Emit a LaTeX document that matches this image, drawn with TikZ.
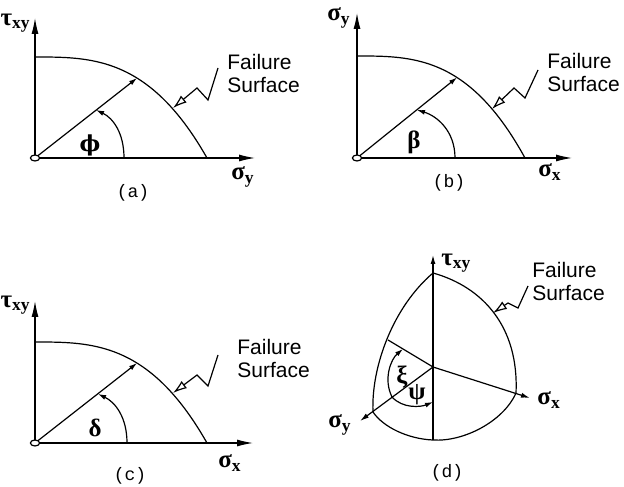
\documentclass[tikz,border=0pt]{standalone}
\usepackage{fontspec}
\setmainfont{Liberation Sans}
\newfontfamily\capfont{Liberation Mono}
\newfontfamily\grkfont{Liberation Serif}
\newfontfamily\phifont{DejaVu Serif}
\usetikzlibrary{arrows.meta}

\begin{document}
\begin{tikzpicture}[x=0.5pt, y=0.5pt,
            axis/.style={line width=0.6pt, -{Latex[length=8pt,width=3.5pt]}},
            saxis/.style={line width=0.6pt, -{Latex[length=4.5pt,width=2.5pt]}},
            surf/.style={line width=0.6pt},
            ray/.style={line width=0.6pt, -{Latex[length=4pt,width=2.5pt]}},
            leader/.style={line width=0.6pt, -{Latex[open,length=7pt,width=4.5pt]}},
            sym/.style={font=\grkfont\bfseries\fontsize{12.5}{14}\selectfont, inner sep=0pt},
            lbl/.style={font=\fontsize{10.5}{11.5}\selectfont, align=left, inner sep=0pt},
            captxt/.style={font=\capfont\fontsize{9}{10}\selectfont, inner sep=0pt}
        ]
            \useasboundingbox (0,0) rectangle (624,486);

            % (a) tau_xy - sigma_y
            \begin{scope}[shift={(35,328)}]
                \coordinate (oa) at (0,0);
                \coordinate (ya) at (0,140);
                \coordinate (xa) at (220,0);
                \coordinate (pa) at (102,79.9);
                \coordinate (ta) at (138,50);
                \draw[axis] (oa) -- (ya);
                \draw[axis] (oa) -- (xa);
                \draw[surf] plot[domain=0:1, samples=40, smooth] ({172*\x},{101*(1-\x^3)});
                \draw[ray] (oa) -- (pa);
                \draw[ray] (89,0) .. controls (89,25) and (78,40) .. (61,48);
                \draw[surf, fill=white] (oa) ellipse [x radius=2.3pt, y radius=1.5pt];
                \node[sym, anchor=east] (tauA) at (-4,135) {τ\textsubscript{xy}};
                \node[sym] (sigA) at (208,-19) {σ\textsubscript{y}};
                \node[sym, font=\phifont\bfseries\fontsize{11}{13}\selectfont] (phiA) at (55,13) {ϕ};
                \node[captxt] (capA) at (98,-35) {(a)};
                \node[lbl, anchor=west] (fa) at (192,84.5) {Failure\\Surface};
                \draw[leader] ([shift={(-9,5.5)}]fa.west) -- ++(-10,-32) -- ++(-11,12) -- (ta);
            \end{scope}

            % (b) sigma_y - sigma_x
            \begin{scope}[shift={(357,328)}]
                \coordinate (ob) at (0,0);
                \coordinate (yb) at (0,145);
                \coordinate (xb) at (215,0);
                \coordinate (pb) at (100,80.5);
                \coordinate (tb) at (135,49);
                \draw[axis] (ob) -- (yb);
                \draw[axis] (ob) -- (xb);
                \draw[surf] plot[domain=0:1, samples=40, smooth] ({168*\x},{102*(1-\x^3)});
                \draw[ray] (ob) -- (pb);
                \draw[ray] (98,0) .. controls (98,27) and (80,42) .. (60,48);
                \draw[surf, fill=white] (ob) ellipse [x radius=2.3pt, y radius=1.5pt];
                \node[sym, anchor=east] (sigyB) at (-6,140) {σ\textsubscript{y}};
                \node[sym] (sigxB) at (193,-14) {σ\textsubscript{x}};
                \node[sym] (betB) at (57,16) {β};
                \node[captxt] (capB) at (92,-25) {(b)};
                \node[lbl, anchor=west] (fb) at (190,85.5) {Failure\\Surface};
                \draw[leader] ([shift={(-9,2.5)}]fb.west) -- ++(-13,-28) -- ++(-11,10) -- (tb);
            \end{scope}

            % (c) tau_xy - sigma_x
            \begin{scope}[shift={(35,43)}]
                \coordinate (oc) at (0,0);
                \coordinate (yc) at (0,142);
                \coordinate (xc) at (218,0);
                \coordinate (pc) at (102,79.9);
                \coordinate (tc) at (138,50);
                \draw[axis] (oc) -- (yc);
                \draw[axis] (oc) -- (xc);
                \draw[surf] plot[domain=0:1, samples=40, smooth] ({172*\x},{101*(1-\x^3)});
                \draw[ray] (oc) -- (pc);
                \draw[ray] (92,0) .. controls (92,26) and (80,41) .. (63,49);
                \draw[surf, fill=white] (oc) ellipse [x radius=2.3pt, y radius=1.5pt];
                \node[sym, anchor=east] (tauC) at (-4,138) {τ\textsubscript{xy}};
                \node[sym] (sigC) at (195,-20) {σ\textsubscript{x}};
                \node[sym] (delC) at (60,15) {δ};
                \node[captxt] (capC) at (95,-33) {(c)};
                \node[lbl, anchor=west] (fc) at (202,84.5) {Failure\\Surface};
                \draw[leader] ([shift={(-19,3.5)}]fc.west) -- ++(-10,-31) -- ++(-11,11) -- (tc);
            \end{scope}

            % (d) deviatoric view
            \begin{scope}[shift={(433,119)}]
                \coordinate (d0) at (0,0);
                \coordinate (dT) at (0,94);
                \coordinate (dB) at (0,-73);
                \coordinate (dR) at (83,-26);
                \coordinate (dL) at (-60,-45);
                \coordinate (dtau) at (0,112);
                \coordinate (dsx) at (97,-31);
                \coordinate (dsy) at (-73,-54);
                \coordinate (dk) at (-45,27);
                \coordinate (dtip) at (60,54);
                % boundary
                \draw[surf] (dT) .. controls (50,80) and (86,40) .. (dR)
                    .. controls (70,-55) and (30,-75) .. (dB)
                    .. controls (-25,-72) and (-50,-60) .. (dL)
                    .. controls (-62,0) and (-40,60) .. (dT);
                \draw[saxis] (dB) -- (dtau);
                \draw[saxis] (d0) -- (dsx);
                \draw[saxis] (d0) -- (dsy);
                \draw[surf] (d0) -- (dk);
                % angles
                \draw[ray] (-41,-30) .. controls (-50,-12) and (-42,8) .. (-30,18);
                \draw[ray] (-41,-30) .. controls (-30,-42) and (-12,-40) .. (0,-35);
                \node[sym] (xiD) at (-31,-10) {ξ};
                \node[sym] (psiD) at (-16,-28) {ψ};
                \node[sym, anchor=west] (tauD) at (8,104) {τ\textsubscript{xy}};
                \node[sym, anchor=west] (sxD) at (104,-33) {σ\textsubscript{x}};
                \node[sym, anchor=east] (syD) at (-81,-58) {σ\textsubscript{y}};
                \node[captxt] (capD) at (14,-106) {(d)};
                \node[lbl, anchor=west] (fd) at (99,85.5) {Failure\\Surface};
                \draw[leader] ([shift={(-4,-4.5)}]fd.west) -- ++(-10,-22) -- ++(-10,5) -- (dtip);
            \end{scope}
        \end{tikzpicture}
\end{document}
